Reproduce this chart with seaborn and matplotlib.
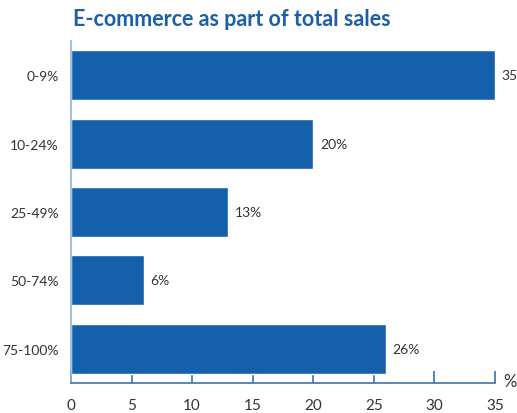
import matplotlib
matplotlib.use("Agg")
import matplotlib.pyplot as plt
import seaborn as sns
import pandas as pd

categories = ["0-9%", "10-24%", "25-49%", "50-74%", "75-100%"]
values = [35, 20, 13, 6, 26]
value_labels = ["35", "20%", "13%", "6%", "26%"]
x_ticks = [0, 5, 10, 15, 20, 25, 30, 35]

sns.set_theme(style="white")
plt.rcParams["font.family"] = ["Lato", "DejaVu Sans"]

df = pd.DataFrame({"band": categories, "share": values})

fig = plt.figure(figsize=(5.17, 4.14), dpi=100)
ax = fig.add_axes([71 / 517, 1 - 384 / 414, (495 - 71) / 517, (384 - 42) / 414])

bar_color = "#1560ab"
sns.barplot(data=df, x="share", y="band", orient="h", color=bar_color,
            saturation=1, width=0.73, ax=ax)

for p, lab in zip(ax.patches, value_labels):
    ax.text(p.get_width() + 0.55, p.get_y() + p.get_height() / 2, lab,
            va="center", ha="left", fontsize=10, color="#333333")

ax.set_xlim(0, 35)
ax.set_ylim(4.5, -0.5)
ax.set_xticks(x_ticks)
ax.set_xticklabels([str(t) for t in x_ticks], fontsize=11, color="#333333")
ax.tick_params(axis="x", direction="in", length=9, width=1.2, color="#3a72b5",
               pad=11, bottom=True)
ax.tick_params(axis="y", length=0, pad=9, labelsize=10, labelcolor="#333333")
ax.set_xlabel("")
ax.set_ylabel("")

for s in ["top", "right"]:
    ax.spines[s].set_visible(False)
ax.spines["left"].set_color("#8fb3dd")
ax.spines["left"].set_linewidth(1.2)
ax.spines["bottom"].set_color("#3a72b5")
ax.spines["bottom"].set_linewidth(1.2)

fig.text(503 / 517, 1 - 382 / 414, "%", fontsize=12, color="#333333",
         ha="left", va="center")
fig.text(73 / 517, 1 - 20 / 414, "E-commerce as part of total sales",
         fontsize=15.5, fontweight="bold", color="#1a5fa8", ha="left", va="center")

fig.savefig("out.png", dpi=100)
